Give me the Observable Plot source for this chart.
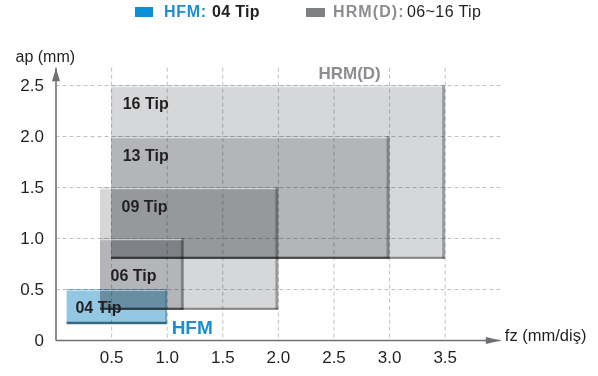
<!DOCTYPE html>
<html>
<head>
<meta charset="utf-8">
<script src="https://cdn.jsdelivr.net/npm/d3@7"></script>
<script src="https://cdn.jsdelivr.net/npm/@observablehq/plot@0.6"></script>
<style>
  html, body { margin: 0; padding: 0; background: #fff; }
  #legend { position: relative; width: 598px; height: 28px; font-family: 'Liberation Sans', Arial, Helvetica, sans-serif; }
  #legend span { position: absolute; top: 4px; font-size: 16px; line-height: 16px; white-space: nowrap; }
  #legend .sw { position: absolute; }
</style>
</head>
<body>
<div id="legend"></div>
<div id="chart"></div>
<script>
// ---- data ----
const tips   = ["16 Tip", "13 Tip", "09 Tip", "06 Tip", "04 Tip"];
const series = ["HRM(D)", "HRM(D)", "HRM(D)", "HRM(D)", "HFM"];
const fzMin  = [0.5, 0.5, 0.4, 0.4, 0.1];
const fzMax  = [3.5, 3.0, 2.0, 1.15, 1.0];
const apMin  = [0.8, 0.8, 0.3, 0.3, 0.16];
const apMax  = [2.5, 2.0, 1.5, 1.0, 0.5];
// label anchors (data units)
const labelFz = [0.6, 0.6, 0.59, 0.49, 0.175];
const labelAp = [2.32, 1.81, 1.31, 0.63, 0.32];
const groupNames = ["HFM", "HRM(D)"];
const groupFz = [1.04, 2.36];
const groupAp = [0.12, 2.62];
const xTicks = [0.5, 1.0, 1.5, 2.0, 2.5, 3.0, 3.5];
const yTicks = [0, 0.5, 1.0, 1.5, 2.0, 2.5];
const xDomain = [0, 4];
const yDomain = [0, 2.67];
const legendNames = ["HFM:", "HRM(D):"];
const legendTips  = ["04 Tip", "06~16 Tip"];

// ---- styles ----
const font = "'Liberation Sans', Arial, Helvetica, sans-serif";
const grayFill = "#d6d7d9";
const blueFill = "#94c8e2";
const axisColor = "#6f7073";
const blueText = "#1b8fd3";
const grayText = "#8c8d90";
const darkText = "#231f20";

// ---- legend ----
const legend = document.getElementById("legend");
const lg = [
  {sw: "#0a8fd8", swL: 135, swT: 7, swW: 18, swH: 10, nameL: 164, nameC: blueText, nameLs: 0.7, tipL: 212, tipW: "bold", tipLs: 0.3},
  {sw: "#7f8083", swL: 306, swT: 8, swW: 19, swH: 9, nameL: 333, nameC: grayText, nameLs: 1.1, tipL: 407, tipW: "normal", tipLs: 0.4}
];
legendNames.forEach((n, i) => {
  const s = lg[i];
  const sw = document.createElement("div");
  sw.className = "sw";
  Object.assign(sw.style, {left: s.swL + "px", top: s.swT + "px", width: s.swW + "px", height: s.swH + "px", background: s.sw});
  legend.appendChild(sw);
  const a = document.createElement("span");
  a.textContent = n;
  Object.assign(a.style, {left: s.nameL + "px", color: s.nameC, fontWeight: "bold", letterSpacing: s.nameLs + "px"});
  legend.appendChild(a);
  const b = document.createElement("span");
  b.textContent = legendTips[i];
  Object.assign(b.style, {left: s.tipL + "px", color: darkText, fontWeight: s.tipW, letterSpacing: s.tipLs + "px"});
  legend.appendChild(b);
});

// ---- chart ----
const rows = tips.map((t, i) => ({
  tip: t, series: series[i],
  fz1: fzMin[i], fz2: fzMax[i], ap1: apMin[i], ap2: apMax[i],
  lx: labelFz[i], ly: labelAp[i]
}));
const groups = groupNames.map((g, i) => ({name: g, x: groupFz[i], y: groupAp[i]}));
const isHFM = d => d.series === "HFM";
const isHRM = d => d.series !== "HFM";

const arrowUp = {draw(ctx) { ctx.moveTo(0, 0); ctx.lineTo(4, 13); ctx.lineTo(-4, 13); ctx.closePath(); }};
const arrowRight = {draw(ctx) { ctx.moveTo(0, 0); ctx.lineTo(-15, 3.5); ctx.lineTo(-15, -3.5); ctx.closePath(); }};

const chart = Plot.plot({
  width: 598,
  height: 348,
  marginLeft: 55.5,
  marginRight: 97.7,
  marginTop: 39.7,
  marginBottom: 36,
  style: {fontFamily: font, fontSize: "17px", color: darkText, background: "#fff", overflow: "visible"},
  x: {domain: xDomain, ticks: xTicks, tickSize: 0, tickPadding: 10, tickFormat: d => d.toFixed(1), label: null},
  y: {domain: yDomain, ticks: yTicks, tickSize: 0, tickPadding: 12, tickFormat: d => d === 0 ? "0" : d.toFixed(1), label: null},
  marks: [
    // grid
    Plot.ruleY(yTicks.filter(d => d > 0), {stroke: "#b9babc", strokeWidth: 0.9, strokeDasharray: "4,3"}),
    Plot.ruleX(xTicks, {stroke: "#b9babc", strokeWidth: 0.9, strokeDasharray: "4,3"}),
    // HRM(D) ranges
    Plot.rect(rows, {filter: isHRM, x1: "fz1", x2: "fz2", y1: "ap1", y2: "ap2", fill: grayFill, mixBlendMode: "multiply"}),
    Plot.ruleY(rows, {filter: isHRM, y: "ap2", x1: "fz1", x2: "fz2", stroke: "#fff", strokeOpacity: 0.55, strokeWidth: 1.5, dy: 1}),
    Plot.ruleY(rows, {filter: isHRM, y: "ap1", x1: "fz1", x2: "fz2", stroke: "#2e2f31", strokeOpacity: 0.45, strokeWidth: 2.2, dy: -1, mixBlendMode: "multiply"}),
    Plot.ruleX(rows, {filter: isHRM, x: "fz2", y1: "ap1", y2: "ap2", stroke: "#2e2f31", strokeOpacity: 0.35, strokeWidth: 3, dx: -1.5, mixBlendMode: "multiply"}),
    // HFM range
    Plot.rect(rows, {filter: isHFM, x1: "fz1", x2: "fz2", y1: "ap1", y2: "ap2", fill: blueFill, mixBlendMode: "multiply"}),
    Plot.ruleY(rows, {filter: isHFM, y: "ap2", x1: "fz1", x2: "fz2", stroke: "#fff", strokeOpacity: 0.45, strokeWidth: 1.2, dy: 1}),
    Plot.ruleY(rows, {filter: isHFM, y: "ap1", x1: "fz1", x2: "fz2", stroke: "#1d4f68", strokeOpacity: 0.8, strokeWidth: 2.5, dy: -1.2}),
    Plot.ruleX(rows, {filter: isHFM, x: "fz2", y1: "ap1", y2: "ap2", stroke: "#1d4f68", strokeOpacity: 0.35, strokeWidth: 2, dx: -1}),
    // axes with arrows
    Plot.ruleY([0], {stroke: axisColor, strokeWidth: 1.6}),
    Plot.ruleX([0], {stroke: axisColor, strokeWidth: 1.6}),
    Plot.dot([xDomain[1]], {x: d => d, y: 0, symbol: arrowRight, fill: axisColor, stroke: "none"}),
    Plot.dot([yDomain[1]], {x: 0, y: d => d, symbol: arrowUp, fill: axisColor, stroke: "none"}),
    // axis titles
    Plot.text(["ap (mm)"], {frameAnchor: "top-left", dx: -40.5, dy: -18, textAnchor: "start", fontSize: 16, fill: darkText}),
    Plot.text(["fz (mm/diş)"], {frameAnchor: "bottom-right", dx: 4, dy: 0, textAnchor: "start", fontSize: 16.5, fill: darkText}),
    // tip labels
    Plot.text(rows, {x: "lx", y: "ly", text: "tip", textAnchor: "start", fontSize: 16, fontWeight: "bold", fill: darkText, letterSpacing: "0.6px"}),
    // group labels
    Plot.text(groups, {filter: d => d.name === "HFM", x: "x", y: "y", text: "name", textAnchor: "start", fontSize: 19, fontWeight: "bold", fill: blueText}),
    Plot.text(groups, {filter: d => d.name !== "HFM", x: "x", y: "y", text: "name", textAnchor: "start", fontSize: 17, fontWeight: "bold", fill: grayText, letterSpacing: "1.5px"})
  ]
});
document.getElementById("chart").appendChild(chart);
</script>
</body>
</html>
